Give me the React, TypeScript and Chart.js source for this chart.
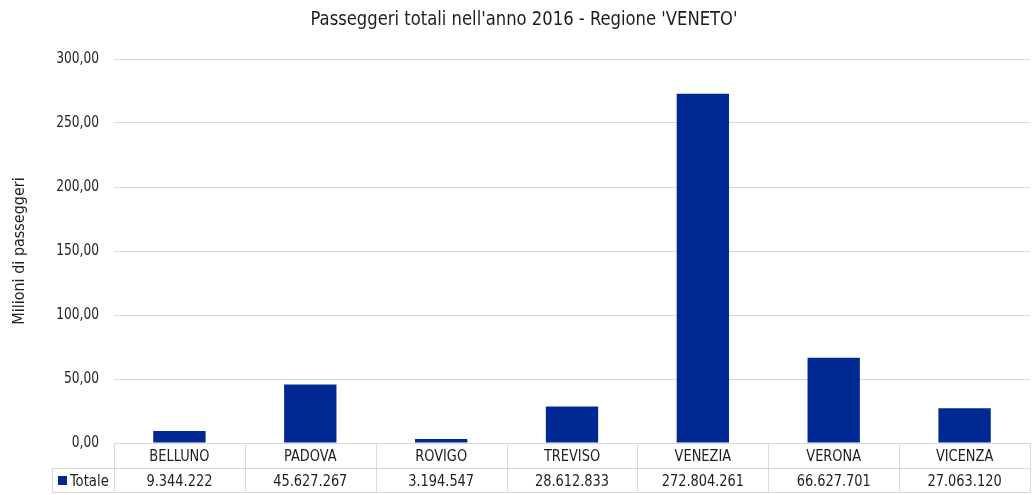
import React, { useEffect, useRef } from "react";
import { Chart, registerables } from "chart.js";

Chart.register(...registerables);

const categories = ["BELLUNO", "PADOVA", "ROVIGO", "TREVISO", "VENEZIA", "VERONA", "VICENZA"];
const totals = [9344222, 45627267, 3194547, 28612833, 272804261, 66627701, 27063120];
const seriesName = "Totale";
const yTicks = [0, 50, 100, 150, 200, 250, 300];
const titleText = "Passeggeri totali nell'anno 2016 - Regione 'VENETO'";
const yTitle = "Milioni di passeggeri";

const FONT = "'DejaVu Sans Condensed', 'DejaVu Sans', sans-serif";
const BAR = "#002893";
const GRID = "#d9d9d9";
const TEXT = "#1e1e1e";

function fmtThousands(n: number): string {
  const s = String(Math.round(n));
  let out = "";
  for (let i = 0; i < s.length; i++) {
    const fromEnd = s.length - i;
    out += s[i];
    if (fromEnd > 1 && (fromEnd - 1) % 3 === 0) out += ".";
  }
  return out;
}

function narrowText(ctx: any, text: string, x: number, y: number, sx: number, align: string) {
  ctx.save();
  ctx.translate(x, y);
  ctx.scale(sx, 1);
  ctx.textAlign = align;
  ctx.fillText(text, 0, 0);
  ctx.restore();
}

const tablePlugin = {
  id: "tablePlugin",
  afterDraw(chart: any) {
    const ctx = chart.ctx;
    const area = chart.chartArea;
    const n = categories.length;
    const colW = (area.right - area.left) / n;
    const rowH = 25;
    const top = area.bottom;
    const mid = top + rowH;
    const bot = mid + 25;
    const legendLeft = 52;
    ctx.save();
    ctx.textBaseline = "middle";
    // title
    ctx.fillStyle = TEXT;
    ctx.font = `19px ${FONT}`;
    narrowText(ctx, titleText, 524, 20, 0.96, "center");
    // y title
    ctx.save();
    ctx.translate(20, 251);
    ctx.rotate(-Math.PI / 2);
    ctx.font = `16px ${FONT}`;
    ctx.textAlign = "center";
    ctx.fillText(yTitle, 0, 0);
    ctx.restore();
    // y tick labels
    ctx.font = `16px ${FONT}`;
    const ys = chart.scales.y;
    for (const v of yTicks) {
      narrowText(ctx, v.toFixed(2).replace(".", ","), 99, ys.getPixelForValue(v), 0.85, "right");
    }
    // table lines
    ctx.strokeStyle = GRID;
    ctx.lineWidth = 1;
    ctx.beginPath();
    ctx.moveTo(area.left, top + 0.5);
    ctx.lineTo(area.right, top + 0.5);
    ctx.moveTo(legendLeft, mid + 0.5);
    ctx.lineTo(area.right, mid + 0.5);
    ctx.moveTo(legendLeft, bot - 0.5);
    ctx.lineTo(area.right, bot - 0.5);
    for (let i = 0; i <= n; i++) {
      const x = Math.round(area.left + i * colW) + 0.5;
      ctx.moveTo(x, top);
      ctx.lineTo(x, bot);
    }
    ctx.moveTo(legendLeft + 0.5, mid);
    ctx.lineTo(legendLeft + 0.5, bot);
    ctx.stroke();
    // texts
    ctx.fillStyle = TEXT;
    ctx.font = `16px ${FONT}`;
    for (let i = 0; i < n; i++) {
      const cx = chart.scales.x.getPixelForValue(i);
      narrowText(ctx, categories[i], cx, top + rowH / 2 + 1, 0.9, "center");
      narrowText(ctx, fmtThousands(totals[i]), cx, mid + rowH / 2 + 1, 0.9, "center");
    }
    // legend key
    ctx.fillStyle = BAR;
    ctx.fillRect(58, mid + 8, 9, 9);
    ctx.fillStyle = TEXT;
    narrowText(ctx, seriesName, 70, mid + rowH / 2 + 1, 0.92, "left");
    ctx.restore();
  },
};

export default function App() {
  const ref = useRef<HTMLCanvasElement>(null);
  useEffect(() => {
    document.body.style.margin = "0";
    const canvas = ref.current!;
    const chart = new Chart(canvas, {
      type: "bar",
      data: {
        labels: categories,
        datasets: [
          {
            label: seriesName,
            data: totals.map((v) => v / 1e6),
            backgroundColor: BAR,
            barPercentage: 0.4,
            categoryPercentage: 1,
          },
        ],
      },
      options: {
        responsive: false,
        animation: false,
        layout: { padding: { top: 59, right: 2, left: 0, bottom: 0 } },
        plugins: {
          legend: { display: false },
          title: { display: false },
          tooltip: { enabled: false },
        },
        scales: {
          x: {
            grid: { display: false, drawTicks: false },
            border: { display: false },
            ticks: { display: false },
            afterFit(scale: any) {
              scale.height = 52;
            },
          },
          y: {
            min: 0,
            max: 300,
            afterBuildTicks(scale: any) {
              scale.ticks = yTicks.map((v) => ({ value: v }));
            },
            grid: { color: GRID, drawTicks: false },
            border: { display: false },
            ticks: { display: false },
            afterFit(scale: any) {
              scale.width = 114;
            },
          },
        },
      },
      plugins: [tablePlugin],
    });
    return () => chart.destroy();
  }, []);
  return (
    <div style={{ position: "absolute", left: 0, top: 0, width: 1032, height: 495, background: "#fff" }}>
      <canvas ref={ref} width={1032} height={495} />
    </div>
  );
}
